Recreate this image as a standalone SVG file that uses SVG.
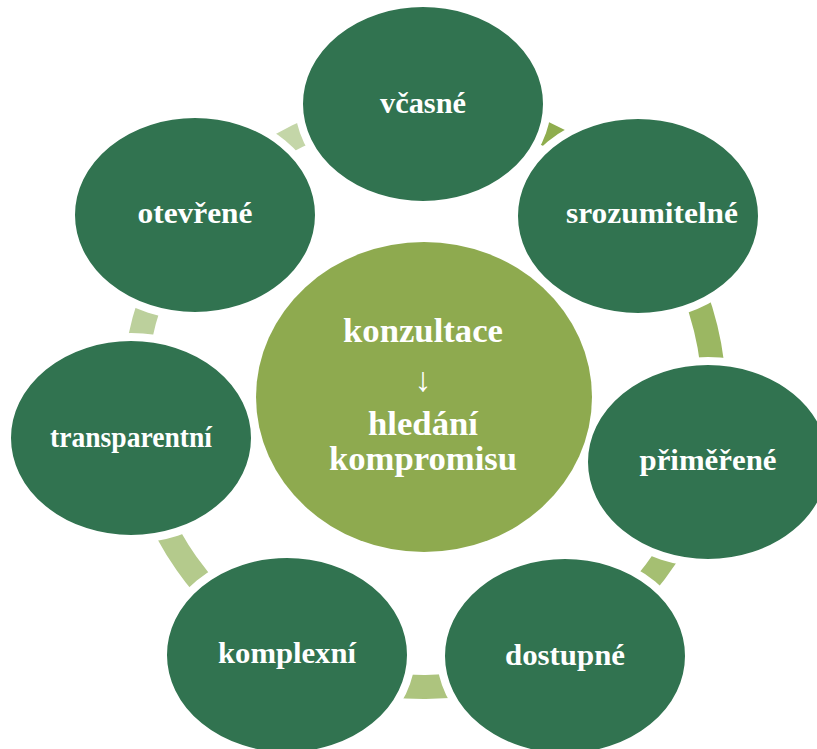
<svg xmlns="http://www.w3.org/2000/svg" width="817" height="749" viewBox="0 0 817 749">
<style>
.seg{fill:none;stroke-width:24;stroke-linecap:butt}
.node{fill:#317350;stroke:#ffffff;stroke-width:8}
.lbl{font-family:"Liberation Serif","Times New Roman",serif;font-weight:bold;font-size:30px;fill:#ffffff;text-anchor:middle}
.clbl{font-family:"Liberation Serif","Times New Roman",serif;font-weight:bold;font-size:34px;fill:#ffffff;text-anchor:middle}
</style>
<rect width="817" height="749" fill="#ffffff"/>
<g id="connectors">
<path class="seg" stroke="#8fad4e" d="M423,107 A290,290 0 0 1 644.8,209.1"/>
<path class="seg" stroke="#9bb762" d="M644.8,209.1 A290,290 0 0 1 706.7,461.7"/>
<path class="seg" stroke="#a5bf72" d="M706.7,461.7 A290,290 0 0 1 562.8,651.6"/>
<path class="seg" stroke="#adc47e" d="M562.8,651.6 A290,290 0 0 1 288,653.2"/>
<path class="seg" stroke="#b4ca8c" d="M288,653.2 A290,290 0 0 1 136.8,437.4"/>
<path class="seg" stroke="#bcd09c" d="M136.8,437.4 A290,290 0 0 1 197,216.5"/>
<path class="seg" stroke="#c4d6a8" d="M197,216.5 A290,290 0 0 1 423,107"/>
</g>
<g id="n1"><ellipse class="node" cx="423" cy="104" rx="124" ry="101"/><text class="lbl" x="423" y="113" textLength="86" lengthAdjust="spacingAndGlyphs">včasné</text></g>
<g id="n2"><ellipse class="node" cx="638" cy="216" rx="124" ry="101"/><text class="lbl" x="652" y="223" textLength="172" lengthAdjust="spacingAndGlyphs">srozumitelné</text></g>
<g id="n3"><ellipse class="node" cx="708" cy="462" rx="124" ry="101"/><text class="lbl" x="708" y="470" textLength="137" lengthAdjust="spacingAndGlyphs">přiměřené</text></g>
<g id="n4"><ellipse class="node" cx="565" cy="656" rx="124" ry="101"/><text class="lbl" x="565" y="665" textLength="120" lengthAdjust="spacingAndGlyphs">dostupné</text></g>
<g id="n5"><ellipse class="node" cx="287" cy="655" rx="124" ry="101"/><text class="lbl" x="287" y="663" textLength="138" lengthAdjust="spacingAndGlyphs">komplexní</text></g>
<g id="n6"><ellipse class="node" cx="131" cy="438" rx="124" ry="101"/><text class="lbl" x="131" y="447" textLength="162" lengthAdjust="spacingAndGlyphs">transparentní</text></g>
<g id="n7"><ellipse class="node" cx="195" cy="215" rx="124" ry="101"/><text class="lbl" x="195" y="223" textLength="115" lengthAdjust="spacingAndGlyphs">otevřené</text></g>
<g id="center">
<ellipse cx="424" cy="397" rx="168" ry="155" fill="#8eaa4f"/>
<text class="clbl" x="423" y="342" textLength="160" lengthAdjust="spacingAndGlyphs">konzultace</text>
<text class="clbl" x="423" y="391" font-size="32">↓</text>
<text class="clbl" x="423" y="435" textLength="110" lengthAdjust="spacingAndGlyphs">hledání</text>
<text class="clbl" x="423" y="470" textLength="188" lengthAdjust="spacingAndGlyphs">kompromisu</text>
</g>
</svg>
